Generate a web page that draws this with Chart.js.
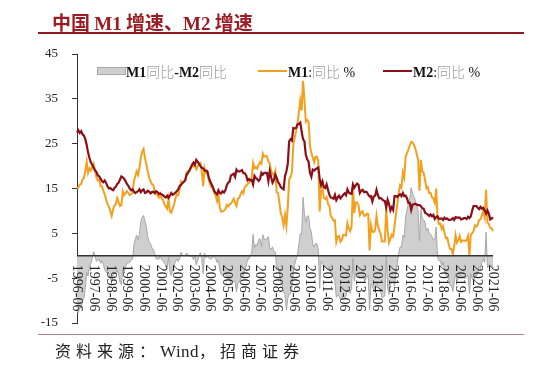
<!DOCTYPE html>
<html>
<head>
<meta charset="utf-8">
<script src="https://cdn.jsdelivr.net/npm/chart.js@4"></script>
<style>
  body { margin: 0; background: #fff; }
  #wrap { position: relative; width: 554px; height: 373px; overflow: hidden; }
  #myChart { position: absolute; left: 0; top: 0; }
  .title { position: absolute; left: 52px; top: 8px; font-size: 19px; font-weight: 700; color: #9b1c22; font-family: "Noto Sans CJK SC", sans-serif; white-space: nowrap; }
  .title .lat { font-family: "Liberation Serif", serif; }
  .rule { position: absolute; left: 38px; width: 486px; }
  .src { position: absolute; left: 55px; top: 338px; font-size: 16px; color: #222; letter-spacing: 5px; font-family: "Liberation Serif", "Noto Sans CJK SC", serif; white-space: nowrap; }
  .src .lat { letter-spacing: 0.5px; font-size: 17px; }
  .lg { position: absolute; top: 63px; font-size: 14px; line-height: 16px; white-space: nowrap; font-family: "Liberation Serif", serif; color: #111; }
  .lg b { font-weight: 700; }
  .lg .cn { font-family: "Noto Sans CJK SC", sans-serif; color: #9a9a9a; font-weight: 300; }
  .sw { position: absolute; }
</style>
</head>
<body>
<div id="wrap">
  <canvas id="myChart" width="554" height="373"></canvas>
  <div class="title">中国 <span class="lat">M1</span> 增速、<span class="lat">M2</span> 增速</div>
  <div class="rule" style="top:32px;height:2px;background:#8e1a1f;"></div>
  <div class="rule" style="top:334px;height:1px;background:#b08585;"></div>
  <div class="src">资料来源：<span class="lat">Wind</span>，招商证券</div>

  <div class="sw" style="left:97px;top:67px;width:27px;height:6px;background:#cfcfcf;border:1px solid #a8a8a8;"></div>
  <div class="lg" style="left:126px;"><b>M1</b><span class="cn">同比</span><b>-M2</b><span class="cn">同比</span></div>
  <div class="sw" style="left:258px;top:70px;width:29px;height:2px;background:#f2a01e;"></div>
  <div class="lg" style="left:288px;"><b>M1</b>:<span class="cn">同比</span> %</div>
  <div class="sw" style="left:383px;top:70px;width:29px;height:2px;background:#8b0f18;"></div>
  <div class="lg" style="left:413px;"><b>M2</b>:<span class="cn">同比</span> %</div>
</div>

<script>
// months 1996-06 .. 2021-06
const months = [];
for (let y = 1996, m = 6; y < 2021 || (y === 2021 && m <= 6); ) {
  months.push(y + "-" + String(m).padStart(2, "0"));
  m++;
  if (m > 12) { m = 1; y++; }
}
const xLabels = months.filter((d) => d.endsWith("-06"));
const yTicks = [45, 35, 25, 15, 5, -5, -15];

// M1 同比 %
const m1 = [
  15.0, 15.3, 15.9, 16.0, 17.0, 17.4, 18.9, // 1996 Jun-Dec
  21.0, 18.5, 19.5, 19.0, 19.8, 20.5, 19.0, 17.5, 16.8, 17.0, 15.5, 15.5, // 1997
  14.5, 13.7, 12.5, 11.5, 11.0, 10.0, 8.9, 10.3, 11.2, 11.5, 12.9, 12.0, // 1998
  11.1, 11.3, 14.4, 13.5, 14.0, 14.4, 14.0, 13.5, 13.7, 14.0, 16.6, 17.7, // 1999
  18.8, 18.0, 19.5, 21.8, 23.2, 23.8, 21.8, 20.5, 18.8, 17.5, 16.6, 16.0, // 2000
  15.8, 14.5, 13.7, 13.5, 13.0, 13.8, 12.8, 12.5, 11.5, 11.0, 10.5, 12.7, // 2001
  9.9, 9.6, 10.5, 11.5, 12.8, 13.7, 13.5, 14.8, 16.6, 16.3, 16.5, 16.8, // 2002
  18.6, 18.8, 18.9, 19.5, 20.2, 19.9, 20.2, 19.3, 19.9, 20.4, 20.7, 18.7, // 2003
  15.5, 19.6, 18.5, 18.8, 17.0, 15.9, 15.3, 15.2, 14.0, 13.5, 12.2, 13.6, // 2004
  10.7, 9.8, 9.9, 10.1, 10.4, 11.3, 11.0, 11.5, 11.6, 12.1, 12.7, 11.8, // 2005
  11.1, 12.7, 12.9, 13.7, 14.4, 13.9, 15.3, 15.6, 16.0, 16.3, 17.0, 17.5, // 2006
  20.7, 19.5, 19.8, 19.4, 20.3, 20.9, 20.5, 22.8, 22.1, 22.2, 22.2, 21.0, // 2007
  20.7, 18.9, 18.3, 17.9, 18.9, 14.2, 14.0, 11.8, 9.4, 8.6, 6.8, 9.1, // 2008
  6.7, 10.9, 17.0, 17.5, 18.7, 24.8, 26.4, 27.7, 29.5, 32.0, 34.6, 32.4, // 2009
  39.0, 34.9, 29.9, 30.3, 29.9, 24.6, 22.9, 21.9, 20.9, 22.1, 22.1, 21.2, // 2010
  9.9, 14.5, 15.0, 12.9, 12.7, 13.1, 11.6, 11.2, 8.9, 8.4, 7.8, 7.9, // 2011
  3.1, 4.3, 4.4, 3.1, 3.5, 4.7, 4.6, 4.5, 7.3, 6.1, 5.5, 6.5, // 2012
  15.3, 9.5, 11.9, 11.9, 11.3, 9.1, 9.7, 9.9, 8.9, 8.9, 9.4, 9.3, // 2013
  1.2, 6.9, 5.4, 5.3, 5.7, 8.9, 6.7, 5.7, 4.8, 3.2, 3.2, 3.2, // 2014
  10.6, 5.6, 2.9, 3.7, 4.7, 4.3, 6.6, 9.3, 11.4, 14.0, 15.7, 15.2, // 2015
  18.6, 17.4, 22.1, 22.9, 23.7, 24.6, 25.4, 25.3, 24.7, 23.9, 22.7, 21.4, // 2016
  14.5, 21.4, 18.8, 18.5, 17.0, 15.0, 15.3, 14.0, 14.0, 13.0, 12.7, 11.8, // 2017
  15.0, 8.5, 7.1, 7.2, 6.0, 6.6, 5.1, 3.9, 4.0, 2.7, 1.5, 1.5, // 2018
  0.4, 2.0, 4.6, 2.9, 3.4, 4.4, 3.1, 3.4, 3.4, 3.3, 3.5, 4.4, // 2019
  0.0, 4.8, 5.0, 5.5, 6.8, 6.5, 6.9, 8.0, 8.1, 9.1, 10.0, 8.6, // 2020
  14.7, 7.4, 7.1, 6.2, 6.1, 5.5 // 2021 Jan-Jun
];

// M2 同比 %
const m2 = [
  27.5, 28.0, 27.4, 27.8, 27.1, 26.8, 26.0, // 1996 Jun-Dec
  24.7, 23.0, 21.8, 20.8, 20.3, 19.6, 19.0, 18.7, 17.9, 17.7, 17.2, 16.6, // 1997
  16.4, 16.8, 16.2, 15.5, 15.0, 15.1, 14.8, 14.6, 15.1, 15.4, 16.0, 16.3, // 1998
  17.0, 17.7, 17.5, 17.2, 16.6, 16.0, 15.6, 15.0, 14.6, 14.8, 14.3, 14.0, // 1999
  14.2, 14.4, 14.8, 14.2, 14.6, 14.8, 14.0, 14.1, 14.5, 14.3, 13.9, 14.2, // 2000
  14.3, 14.0, 14.4, 14.2, 13.8, 13.9, 13.7, 13.5, 13.2, 13.0, 13.4, 12.9, // 2001
  13.4, 14.0, 13.6, 13.8, 14.1, 14.4, 14.8, 15.5, 15.8, 16.2, 16.5, 16.8, // 2002
  18.0, 18.5, 19.0, 19.6, 20.3, 20.8, 20.3, 21.4, 21.0, 20.5, 20.0, 19.6, // 2003
  19.5, 19.0, 19.0, 18.8, 17.5, 16.6, 16.0, 15.3, 14.4, 14.0, 13.7, 14.6, // 2004
  14.0, 13.9, 14.4, 14.1, 14.6, 15.7, 16.3, 16.5, 17.9, 18.1, 18.3, 17.6, // 2005
  19.2, 18.8, 18.8, 18.9, 19.1, 18.4, 18.4, 17.9, 16.8, 17.1, 16.8, 16.9, // 2006
  15.9, 17.8, 17.3, 17.1, 16.7, 17.1, 18.5, 18.1, 18.5, 18.5, 18.5, 16.7, // 2007
  18.9, 17.5, 16.3, 16.9, 18.1, 17.4, 16.4, 16.0, 15.3, 15.0, 14.8, 17.8, // 2008
  18.8, 20.5, 25.5, 26.0, 25.7, 28.5, 28.4, 28.5, 29.3, 29.4, 29.7, 27.7, // 2009
  26.0, 25.5, 22.5, 21.5, 21.0, 18.5, 17.6, 19.2, 19.0, 19.3, 19.5, 19.7, // 2010
  17.2, 15.7, 16.6, 15.3, 15.1, 15.9, 14.7, 13.6, 13.0, 12.9, 12.7, 13.6, // 2011
  12.4, 13.0, 13.4, 12.8, 13.2, 13.6, 13.9, 13.5, 14.8, 14.1, 13.9, 13.8, // 2012
  15.9, 15.2, 15.7, 16.1, 15.8, 14.0, 14.5, 14.7, 14.2, 14.3, 14.2, 13.6, // 2013
  13.2, 13.3, 12.1, 13.2, 13.4, 14.7, 13.5, 12.8, 12.9, 12.6, 12.3, 12.2, // 2014
  10.8, 12.5, 11.6, 10.1, 10.8, 10.2, 13.3, 13.3, 13.1, 13.5, 13.7, 13.3, // 2015
  14.0, 13.3, 13.4, 12.8, 11.8, 11.8, 10.2, 11.4, 11.5, 11.6, 11.4, 11.3, // 2016
  11.3, 11.1, 10.6, 10.5, 9.6, 9.4, 9.2, 8.9, 9.2, 8.8, 9.1, 8.2, // 2017
  8.6, 8.8, 8.2, 8.3, 8.3, 8.0, 8.5, 8.2, 8.3, 8.0, 8.0, 8.1, // 2018
  8.4, 8.0, 8.6, 8.5, 8.5, 8.5, 8.1, 8.2, 8.4, 8.4, 8.2, 8.7, // 2019
  8.4, 8.8, 10.1, 11.1, 11.1, 11.1, 10.7, 10.4, 10.9, 10.5, 10.7, 10.1, // 2020
  9.4, 10.1, 9.4, 8.1, 8.3, 8.6 // 2021 Jan-Jun
];

// M1同比-M2同比
const spread = [
  -12.5, -12.7, -11.5, -11.8, -10.1, -9.4, -7.1, // 1996 Jun-Dec
  -3.7, -4.5, -2.3, -1.8, -0.5, 0.9, 0.0, -1.2, -1.1, -0.7, -1.7, -1.1, // 1997
  -1.9, -3.1, -3.7, -4.0, -4.0, -5.1, -5.9, -4.3, -3.9, -3.9, -3.1, -4.3, // 1998
  -5.9, -6.4, -3.1, -3.7, -2.6, -1.6, -1.6, -1.5, -0.9, -0.8, 2.3, 3.7, // 1999
  4.6, 3.6, 4.7, 7.6, 8.6, 9.0, 7.8, 6.4, 4.3, 3.2, 2.7, 1.8, // 2000
  1.5, 0.5, -0.7, -0.7, -0.8, -0.1, -0.9, -1.0, -1.7, -2.0, -2.9, -0.2, // 2001
  -3.5, -4.4, -3.1, -2.3, -1.3, -0.7, -1.3, -0.7, 0.8, 0.1, 0.0, 0.0, // 2002
  0.6, 0.3, -0.1, -0.1, -0.1, -0.9, -0.1, -2.1, -1.1, -0.1, 0.7, -0.9, // 2003
  -4.0, 0.6, -0.5, 0.0, -0.5, -0.7, -0.7, -0.1, -0.4, -0.5, -1.5, -1.0, // 2004
  -3.3, -4.1, -4.5, -4.0, -4.2, -4.4, -5.3, -5.0, -6.3, -6.0, -5.6, -5.8, // 2005
  -8.1, -6.1, -5.9, -5.2, -4.7, -4.5, -3.1, -2.3, -0.8, -0.8, 0.2, 0.6, // 2006
  4.8, 1.7, 2.5, 2.3, 3.6, 3.8, 2.0, 4.7, 3.6, 3.7, 3.7, 4.3, // 2007
  1.8, 1.4, 2.0, 1.0, 0.8, -3.2, -2.4, -4.2, -5.9, -6.4, -8.0, -8.7, // 2008
  -12.1, -9.6, -8.5, -8.5, -7.0, -3.7, -2.0, -0.8, 0.2, 2.6, 4.9, 4.7, // 2009
  13.0, 9.4, 7.4, 8.8, 8.9, 6.1, 5.3, 2.7, 1.9, 2.8, 2.6, 1.5, // 2010
  -7.3, -1.2, -1.6, -2.4, -2.4, -2.8, -3.1, -2.4, -4.1, -4.5, -4.9, -5.7, // 2011
  -9.3, -8.7, -9.0, -9.7, -9.7, -8.9, -9.3, -9.0, -7.5, -8.0, -8.4, -7.3, // 2012
  -0.6, -5.7, -3.8, -4.2, -4.5, -4.9, -4.8, -4.8, -5.3, -5.4, -4.8, -4.3, // 2013
  -12.0, -6.4, -6.7, -7.9, -7.7, -5.8, -6.8, -7.1, -8.1, -9.4, -9.1, -9.0, // 2014
  -0.2, -6.9, -8.7, -6.4, -6.1, -5.9, -6.7, -4.0, -1.7, 0.5, 2.0, 1.9, // 2015
  4.6, 4.1, 8.7, 10.1, 11.9, 12.8, 15.2, 13.9, 13.2, 12.3, 11.3, 10.1, // 2016
  3.2, 10.3, 8.2, 8.0, 7.4, 5.6, 6.1, 5.1, 4.8, 4.2, 3.6, 3.6, // 2017
  6.4, -0.3, -1.1, -1.1, -2.3, -1.4, -3.4, -4.3, -4.3, -5.3, -6.5, -6.6, // 2018
  -8.0, -6.0, -4.0, -5.6, -5.1, -4.1, -5.0, -4.8, -5.0, -5.1, -4.7, -4.3, // 2019
  -8.4, -4.0, -5.1, -5.6, -4.3, -4.6, -3.8, -2.4, -2.8, -1.4, -0.7, -1.5, // 2020
  5.3, -2.7, -2.3, -1.9, -2.2, -3.1 // 2021 Jan-Jun
];

// zero line + rotated date labels (top to bottom)
const axisDeco = {
  id: "axisDeco",
  afterDatasetsDraw(chart) {
    const { ctx, scales: { x, y } } = chart;
    const y0 = y.getPixelForValue(0);
    ctx.save();
    ctx.strokeStyle = "#333";
    ctx.lineWidth = 1.5;
    ctx.beginPath();
    ctx.moveTo(x.left, y0);
    ctx.lineTo(x.right, y0);
    ctx.stroke();
    ctx.fillStyle = "#222";
    ctx.font = '14px "Liberation Serif"';
    ctx.textAlign = "left";
    ctx.textBaseline = "middle";
    months.forEach((m, i) => {
      if (!xLabels.includes(m)) return;
      ctx.save();
      ctx.translate(x.getPixelForValue(i), y0 + 9);
      ctx.rotate(Math.PI / 2);
      ctx.fillText(m, 0, 0);
      ctx.restore();
    });
    ctx.restore();
  },
};

const ctx = document.getElementById("myChart").getContext("2d");

const data = {
  labels: months,
  datasets: [
    {
      label: "M2:同比 %",
      data: m2,
      borderColor: "#8b0f18",
      borderWidth: 2.2,
      pointRadius: 0,
      order: 1,
    },
    {
      label: "M1:同比 %",
      data: m1,
      borderColor: "#f2a01e",
      borderWidth: 2,
      pointRadius: 0,
      order: 2,
    },
    {
      label: "M1同比-M2同比",
      data: spread,
      borderColor: "#a8a8a8",
      backgroundColor: "#cfcfcf",
      borderWidth: 1,
      pointRadius: 0,
      fill: "origin",
      order: 3,
    },
  ],
};

const config = {
  type: "line",
  data: data,
  options: {
    responsive: false,
    animation: false,
    layout: { padding: { top: 54, right: 61, bottom: 50, left: 0 } },
    plugins: {
      legend: { display: false },
      tooltip: { enabled: false },
    },
    scales: {
      x: { type: "category", display: false },
      y: {
        min: -15,
        max: 45,
        afterBuildTicks: (s) => {
          s.ticks = yTicks.map((v) => ({ value: v }));
        },
        afterFit: (s) => {
          s.width = 77;
        },
        grid: { drawOnChartArea: false, drawTicks: true, tickLength: 5, color: "#333" },
        border: { color: "#333", width: 1 },
        ticks: {
          padding: 14,
          color: "#222",
          font: { family: "Liberation Serif", size: 13 },
        },
      },
    },
  },
  plugins: [axisDeco],
};

const myChart = new Chart(ctx, config);
</script>
</body>
</html>
